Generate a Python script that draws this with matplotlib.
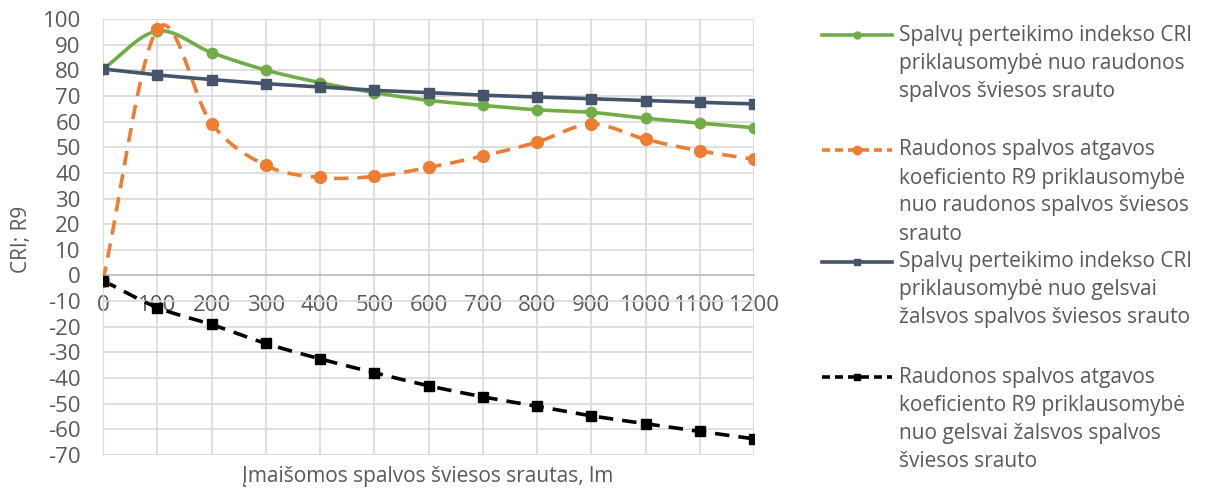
import numpy as np
import matplotlib
matplotlib.use("Agg")
import matplotlib.pyplot as plt
from matplotlib.lines import Line2D

# duomenys nuskaityti nuo grafiko
srautas = [0, 100, 200, 300, 400, 500, 600, 700, 800, 900, 1000, 1100, 1200]
cri_raud = [80.5, 95.3, 86.9, 80.1, 75.2, 71.3, 68.3, 66.3, 64.6, 63.6, 61.3, 59.4, 57.6]
r9_raud = [-2, 96.0, 59.2, 42.9, 38.2, 38.6, 42.1, 46.6, 52.0, 59.0, 53.1, 48.6, 45.3]
cri_gz = [80.5, 78.2, 76.4, 74.8, 73.5, 72.2, 71.3, 70.3, 69.6, 68.9, 68.2, 67.5, 66.9]
r9_gz = [-2, -12.5, -19.1, -26.5, -32.5, -37.9, -43.0, -47.3, -51.0, -54.7, -57.8, -60.8, -63.7]

labels = [
    ["Spalvų perteikimo indekso CRI", "priklausomybė nuo raudonos", "spalvos šviesos srauto"],
    ["Raudonos spalvos atgavos", "koeficiento R9 priklausomybė",
     "nuo raudonos spalvos šviesos", "srauto"],
    ["Spalvų perteikimo indekso CRI", "priklausomybė nuo gelsvai",
     "žalsvos spalvos šviesos srauto"],
    ["Raudonos spalvos atgavos", "koeficiento R9 priklausomybė",
     "nuo gelsvai žalsvos spalvos", "šviesos srauto"],
]

TEXT = "#595959"
W, H = 1208, 490
plt.rcParams['font.family'] = ['Open Sans', 'DejaVu Sans']
plt.rcParams['axes.unicode_minus'] = False


def smooth(x, y, n=20):
    '''Catmull-Rom kreive per taskus (kaip Excel "smoothed line").'''
    x = np.asarray(x, float)
    y = np.asarray(y, float)
    px = np.concatenate([[2 * x[0] - x[1]], x, [2 * x[-1] - x[-2]]])
    py = np.concatenate([[2 * y[0] - y[1]], y, [2 * y[-1] - y[-2]]])
    t = np.linspace(0, 1, n, endpoint=False)
    xs, ys = [], []
    for i in range(1, len(px) - 2):
        for p, out in ((px, xs), (py, ys)):
            p0, p1, p2, p3 = p[i - 1], p[i], p[i + 1], p[i + 2]
            out.extend(0.5 * ((2 * p1) + (-p0 + p2) * t
                              + (2 * p0 - 5 * p1 + 4 * p2 - p3) * t ** 2
                              + (-p0 + 3 * p1 - 3 * p2 + p3) * t ** 3))
    xs.append(x[-1])
    ys.append(y[-1])
    return np.array(xs), np.array(ys)


fig = plt.figure(figsize=(W / 100, H / 100), dpi=100)
ax = fig.add_axes([103 / W, 1 - 455 / H, 651 / W, 436 / H])

series = [
    (cri_raud, "#70AD47", "-", "o", 7.5),
    (r9_raud, "#ED7D31", "--", "o", 8.5),
    (cri_gz, "#44546A", "-", "s", 7),
    (r9_gz, "#000000", "--", "s", 7),
]
for vals, col, ls, mk, ms in series:
    sx, sy = smooth(srautas, vals)
    line, = ax.plot(sx, sy, color=col, lw=2.6, ls=ls, zorder=3)
    if ls == "--":
        line.set_dashes((4, 2.5))
    ax.plot(srautas, vals, color=col, ls="none", marker=mk, ms=ms, zorder=4)

ax.set_xlim(0, 1200)
ax.set_ylim(-70, 100)
ax.set_xticks(srautas)
ax.set_yticks(range(-70, 101, 10))
ax.grid(True, color="#D9D9D9", lw=1.2)
ax.set_axisbelow(True)
for s in ("top", "right"):
    ax.spines[s].set_visible(False)
ax.spines["left"].set_color("#D9D9D9")
ax.spines["bottom"].set_position(("data", 0))
ax.spines["bottom"].set_color("#BFBFBF")
ax.spines["bottom"].set_linewidth(1.2)
ax.tick_params(length=0, labelsize=16, colors=TEXT)
ax.tick_params(axis="y", pad=16)
ax.tick_params(axis="x", pad=14)

fig.text(22 / W, 1 - 239 / H, "CRI; R9", rotation=90, ha="center", va="center",
         fontsize=15, color=TEXT)
fig.text(428 / W, 1 - 476 / H, "Įmaišomos spalvos šviesos srautas, lm",
         ha="center", va="center", fontsize=15, color=TEXT)

# legenda rankomis, kot v originalu (neenakomerni razmiki)
leg_y = [35, 150, 262, 377]
for (vals, col, ls, mk, ms), lines, y0 in zip(series, labels, leg_y):
    yf = 1 - y0 / H
    h = Line2D([822 / W, 892 / W], [yf, yf], transform=fig.transFigure,
               color=col, lw=2.6, ls=ls)
    if ls == "--":
        h.set_dashes((2.2, 1.4))
    fig.add_artist(h)
    fig.add_artist(Line2D([857 / W], [yf], transform=fig.transFigure,
                          color=col, marker=mk, ms=ms - 2.5, ls="none"))
    for k, txt in enumerate(lines):
        fig.text(899 / W, 1 - (y0 + 28 * k) / H, txt, ha="left", va="center",
                 fontsize=15, color=TEXT)

fig.savefig("out.png", dpi=100)
